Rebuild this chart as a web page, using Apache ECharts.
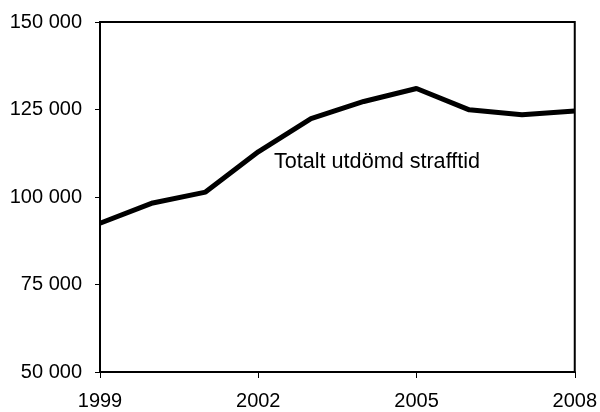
<!DOCTYPE html>
<html>
<head>
<meta charset="utf-8">
<script src="https://cdn.jsdelivr.net/npm/echarts@6/dist/echarts.min.js"></script>
<style>
html, body { margin: 0; padding: 0; background: #fff; }
#chart { width: 600px; height: 412px; }
</style>
</head>
<body>
<div id="chart"></div>
<script>
var years = ['1999', '2000', '2001', '2002', '2003', '2004', '2005', '2006', '2007', '2008'];
var strafftid = [92500, 98300, 101400, 112900, 122400, 127300, 131000, 124900, 123500, 124600];
var seriesName = 'Totalt utdömd strafftid';

var chart = echarts.init(document.getElementById('chart'));

var option = {
	animation: false,
	grid: {
		left: 100,
		right: 25,
		top: 22,
		bottom: 40,
		show: true,
		borderColor: '#000',
		borderWidth: 2
	},
	xAxis: {
		type: 'category',
		boundaryGap: false,
		data: years,
		axisLine: { lineStyle: { color: '#000', width: 2 } },
		axisTick: { interval: 2, length: 6, lineStyle: { color: '#000' } },
		axisLabel: {
			interval: 2,
			margin: 19,
			color: '#000',
			fontFamily: 'Liberation Sans',
			fontSize: 20
		}
	},
	yAxis: {
		type: 'value',
		min: 50000,
		max: 150000,
		interval: 25000,
		splitLine: { show: false },
		axisLine: { show: true, lineStyle: { color: '#000', width: 2 } },
		axisTick: { show: true, length: 5, lineStyle: { color: '#000' } },
		axisLabel: {
			margin: 18,
			color: '#000',
			fontFamily: 'Liberation Sans',
			fontSize: 20,
			formatter: function (v) {
				return String(v).replace(/\B(?=(\d{3})+(?!\d))/g, ' ');
			}
		}
	},
	graphic: [{
		type: 'text',
		left: 274,
		top: 151,
		style: {
			text: seriesName,
			fill: '#000',
			font: '21.6px "Liberation Sans"'
		}
	}],
	series: [{
		name: seriesName,
		type: 'line',
		data: strafftid,
		symbol: 'none',
		lineStyle: { color: '#000', width: 5 }
	}]
};
chart.setOption(option);
</script>
</body>
</html>
